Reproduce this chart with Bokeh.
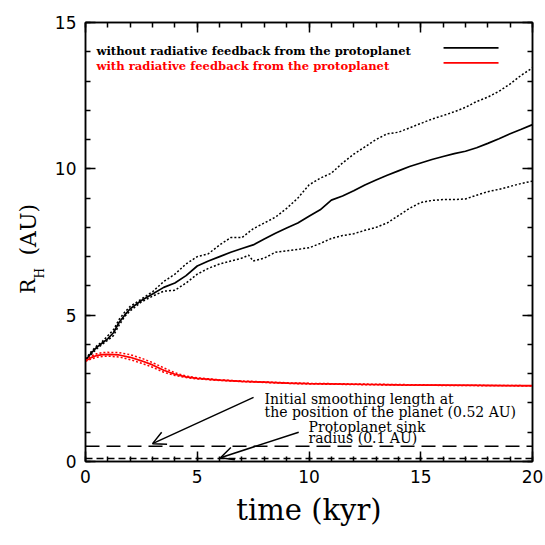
import math
from bokeh.plotting import figure
from bokeh.layouts import row
from bokeh.models import (Range1d, LinearAxis, SingleIntervalTicker, Label, Span,
                          Arrow, OpenHead, CustomLabelingPolicy)
from bokeh.core.properties import value
from bokeh.embed import file_html
from bokeh.resources import INLINE

# ---------------- data ----------------
t_mean = [0, 0.25, 0.5, 0.75, 1.0, 1.25, 1.5, 1.75, 2.0, 2.5, 3.0, 3.5, 4.0, 4.5, 5.0,
          5.5, 6.0, 6.5, 7.0, 7.5, 8.0, 8.5, 9.0, 9.5, 10, 10.5, 11, 11.5, 12, 12.5,
          13, 13.5, 14, 14.5, 15, 15.5, 16, 16.5, 17, 17.5, 18, 18.5, 19, 19.5, 20]
rh_nofb = [3.45, 3.7, 3.9, 4.05, 4.2, 4.4, 4.75, 5.0, 5.22, 5.5, 5.72, 5.95, 6.1, 6.35, 6.68,
           6.85, 7.0, 7.15, 7.28, 7.4, 7.6, 7.8, 7.98, 8.15, 8.38, 8.6, 8.93, 9.07, 9.25, 9.45,
           9.62, 9.78, 9.93, 10.08, 10.2, 10.32, 10.42, 10.52, 10.6, 10.72, 10.87, 11.03, 11.2, 11.35, 11.51]

t_upper = [0, 0.25, 0.5, 0.75, 1.0, 1.25, 1.5, 1.75, 2.0, 2.5, 3.0, 3.5, 4.0, 4.5, 5.0,
           5.5, 6.0, 6.5, 7.0, 7.5, 8.0, 8.5, 9.0, 9.5, 10, 10.5, 11, 11.5, 12, 12.5,
           13, 13.5, 14, 14.5, 15, 15.5, 16, 16.5, 17, 17.5, 18, 18.5, 19, 19.5, 20]
rh_nofb_upper = [3.5, 3.75, 3.95, 4.1, 4.3, 4.5, 4.85, 5.1, 5.3, 5.55, 5.8, 6.15, 6.4, 6.75, 7.0,
                 7.1, 7.4, 7.65, 7.65, 7.95, 8.15, 8.35, 8.65, 9.0, 9.45, 9.68, 9.85, 10.2, 10.5, 10.75,
                 11.0, 11.2, 11.25, 11.4, 11.55, 11.7, 11.82, 11.95, 12.1, 12.3, 12.45, 12.65, 12.9, 13.2, 13.45]

t_lower = [0, 0.25, 0.5, 0.75, 1.0, 1.25, 1.5, 1.75, 2.0, 2.5, 3.0, 3.5, 4.0, 4.5, 5.0,
           5.5, 6.0, 6.5, 7.0, 7.3, 7.5, 8.0, 8.5, 9.0, 9.5, 10, 10.5, 11, 11.5, 12, 12.5,
           13, 13.5, 14, 14.5, 15, 15.5, 16, 16.5, 17, 17.5, 18, 18.5, 19, 19.5, 20]
rh_nofb_lower = [3.45, 3.65, 3.85, 4.0, 4.15, 4.3, 4.65, 4.95, 5.15, 5.45, 5.65, 5.82, 5.85, 6.1, 6.4,
                 6.6, 6.75, 6.85, 6.95, 7.05, 6.85, 6.95, 7.15, 7.2, 7.25, 7.3, 7.45, 7.62, 7.72, 7.78, 7.9,
                 8.0, 8.15, 8.4, 8.65, 8.85, 8.92, 8.95, 8.95, 8.97, 9.1, 9.22, 9.3, 9.4, 9.5, 9.58]

t_fb = [0, 0.25, 0.5, 0.75, 1.0, 1.5, 2.0, 2.5, 3.0, 3.5, 4.0, 4.5, 5.0, 6.0, 7.0, 8.0,
        9.0, 10, 12, 14, 16, 18, 20]
rh_fb = [3.43, 3.55, 3.62, 3.65, 3.66, 3.64, 3.56, 3.44, 3.3, 3.12, 2.98, 2.89, 2.84, 2.78, 2.74, 2.71,
         2.68, 2.66, 2.64, 2.62, 2.61, 2.6, 2.59]
rh_fb_upper = [3.45, 3.6, 3.68, 3.72, 3.73, 3.72, 3.65, 3.53, 3.38, 3.2, 3.03, 2.92, 2.86, 2.79, 2.75, 2.72,
               2.69, 2.67, 2.65, 2.63, 2.61, 2.6, 2.59]
rh_fb_lower = [3.42, 3.5, 3.56, 3.59, 3.6, 3.57, 3.48, 3.36, 3.22, 3.05, 2.94, 2.87, 2.82, 2.77, 2.73, 2.7,
               2.67, 2.65, 2.63, 2.61, 2.6, 2.59, 2.58]

smoothing_length = 0.52   # AU
sink_radius = 0.1         # AU

legend_labels = ["without radiative feedback from the protoplanet",
                 "with radiative feedback from the protoplanet"]
legend_colors = ["black", "red"]

x_label = "time (kyr)"
y_label_parts = ["R", "H", "(AU)"]

SERIF = "DejaVu Serif"
SANS = "DejaVu Sans"

TW = 45
H = 545
BORDER_TOP = 22
BORDER_BOTTOM = 84
y_range = Range1d(0, 15)

# ---------------- y-title strip (shares the main y range) ----------------
ytitle = figure(width=TW, height=H, output_backend="svg", toolbar_location=None,
                title=None, x_range=Range1d(0, TW), y_range=y_range,
                x_axis_type=None, y_axis_type=None,
                min_border=0, min_border_left=0, min_border_right=0,
                min_border_top=BORDER_TOP, min_border_bottom=BORDER_BOTTOM)
ytitle.outline_line_color = None
ytitle.xgrid.visible = False
ytitle.ygrid.visible = False
rot = math.pi / 2
ytitle.text(x=[27], y=[5.73], text=[y_label_parts[0]], angle=rot,
            text_font=value(SERIF), text_font_size="20px", text_color="black",
            text_baseline="alphabetic", text_align="left")
ytitle.text(x=[39], y=[6.25], text=[y_label_parts[1]], angle=rot,
            text_font=value(SERIF), text_font_size="12px", text_color="black",
            text_baseline="alphabetic", text_align="left")
ytitle.text(x=[28], y=[7.04], text=[y_label_parts[2]], angle=rot,
            text_font=value(SERIF), text_font_size="22px", text_color="black",
            text_baseline="alphabetic", text_align="left")

# ---------------- main figure ----------------
p = figure(width=545 - TW, height=H, output_backend="svg", toolbar_location=None,
           title=None, x_range=Range1d(0, 20), y_range=y_range,
           min_border_left=85 - TW, min_border_right=13,
           min_border_top=BORDER_TOP, min_border_bottom=BORDER_BOTTOM)
p.xgrid.visible = False
p.ygrid.visible = False
p.outline_line_color = "black"
p.outline_line_width = 1.5
p.background_fill_color = "white"

hide_all_labels = CustomLabelingPolicy(
    code="for (const i of Array.from(indices)) { indices.unset(i) } return indices")


def style_axis(ax, show_labels=True):
    ax.ticker = SingleIntervalTicker(interval=5, num_minor_ticks=5)
    ax.major_tick_in = 10
    ax.major_tick_out = 0
    ax.minor_tick_in = 5
    ax.minor_tick_out = 0
    ax.major_tick_line_width = 1.5
    ax.minor_tick_line_width = 1.5
    ax.major_tick_line_color = "black"
    ax.minor_tick_line_color = "black"
    ax.axis_line_color = "black"
    ax.axis_line_width = 1.5
    if show_labels:
        ax.major_label_text_font = SANS
        ax.major_label_text_font_size = "17px"
        ax.major_label_text_color = "black"
    else:
        ax.major_label_text_font_size = "0px"
        ax.major_label_standoff = 0
        ax.major_label_policy = hide_all_labels


style_axis(p.xaxis[0])
style_axis(p.yaxis[0])
p.xaxis.major_label_standoff = 8
p.yaxis.major_label_standoff = 9
p.xaxis.axis_label = x_label
p.xaxis.axis_label_text_font = SERIF
p.xaxis.axis_label_text_font_size = "29px"
p.xaxis.axis_label_text_font_style = "normal"
p.xaxis.axis_label_text_color = "black"
p.xaxis.axis_label_standoff = 7

top_ax = LinearAxis()
right_ax = LinearAxis()
style_axis(top_ax, False)
style_axis(right_ax, False)
p.add_layout(top_ax, "above")
p.add_layout(right_ax, "right")

# ---------------- curves ----------------
p.line(t_upper, rh_nofb_upper, line_color="black", line_width=1.5, line_dash="2 2")
p.line(t_lower, rh_nofb_lower, line_color="black", line_width=1.5, line_dash="2 2")
p.line(t_mean, rh_nofb, line_color="black", line_width=1.7)

p.line(t_fb, rh_fb_upper, line_color="red", line_width=1.5, line_dash="2 2")
p.line(t_fb, rh_fb_lower, line_color="red", line_width=1.5, line_dash="2 2")
p.line(t_fb, rh_fb, line_color="red", line_width=1.7)

# horizontal reference lines
p.add_layout(Span(location=smoothing_length, dimension="width", line_color="black",
                  line_width=1.5, line_dash="14 7"))
p.add_layout(Span(location=sink_radius, dimension="width", line_color="black",
                  line_width=1.5, line_dash="7 4"))

# ---------------- legend (manual, label then line) ----------------
leg_text_x = 0.49
leg_text_y = [14.02, 13.5]
leg_line_x = [16.02, 18.48]
leg_line_y = [14.13, 13.62]
for lab, col, ty, ly in zip(legend_labels, legend_colors, leg_text_y, leg_line_y):
    p.add_layout(Label(x=leg_text_x, y=ty, text=lab, text_color=col,
                       text_font=SERIF, text_font_size="11.6px", text_font_style="bold",
                       text_baseline="alphabetic", text_align="left"))
    p.line(leg_line_x, [ly, ly], line_color=col, line_width=1.7)

# ---------------- annotations ----------------
ann_font = "14px"
p.add_layout(Label(x=8.01, y=2.14, text="Initial smoothing length at", text_font=SERIF,
                   text_font_size=ann_font, text_baseline="alphabetic", text_color="black"))
p.add_layout(Label(x=8.01, y=1.69, text="the position of the planet (0.52 AU)", text_font=SERIF,
                   text_font_size=ann_font, text_baseline="alphabetic", text_color="black"))
p.add_layout(Label(x=9.98, y=1.19, text="Protoplanet sink", text_font=SERIF,
                   text_font_size=ann_font, text_baseline="alphabetic", text_color="black"))
p.add_layout(Label(x=9.98, y=0.79, text="radius (0.1 AU)", text_font=SERIF,
                   text_font_size=ann_font, text_baseline="alphabetic", text_color="black"))

p.add_layout(Arrow(x_start=7.52, y_start=2.19, x_end=3.0, y_end=smoothing_length + 0.09,
                   line_color="black", line_width=1.5,
                   end=OpenHead(size=13, line_color="black", line_width=1.5)))
p.add_layout(Arrow(x_start=9.54, y_start=1.0, x_end=6.04, y_end=sink_radius + 0.03,
                   line_color="black", line_width=1.5,
                   end=OpenHead(size=13, line_color="black", line_width=1.5)))

layout = row(ytitle, p, spacing=0)
open("out.html", "w").write(file_html(layout, INLINE))
